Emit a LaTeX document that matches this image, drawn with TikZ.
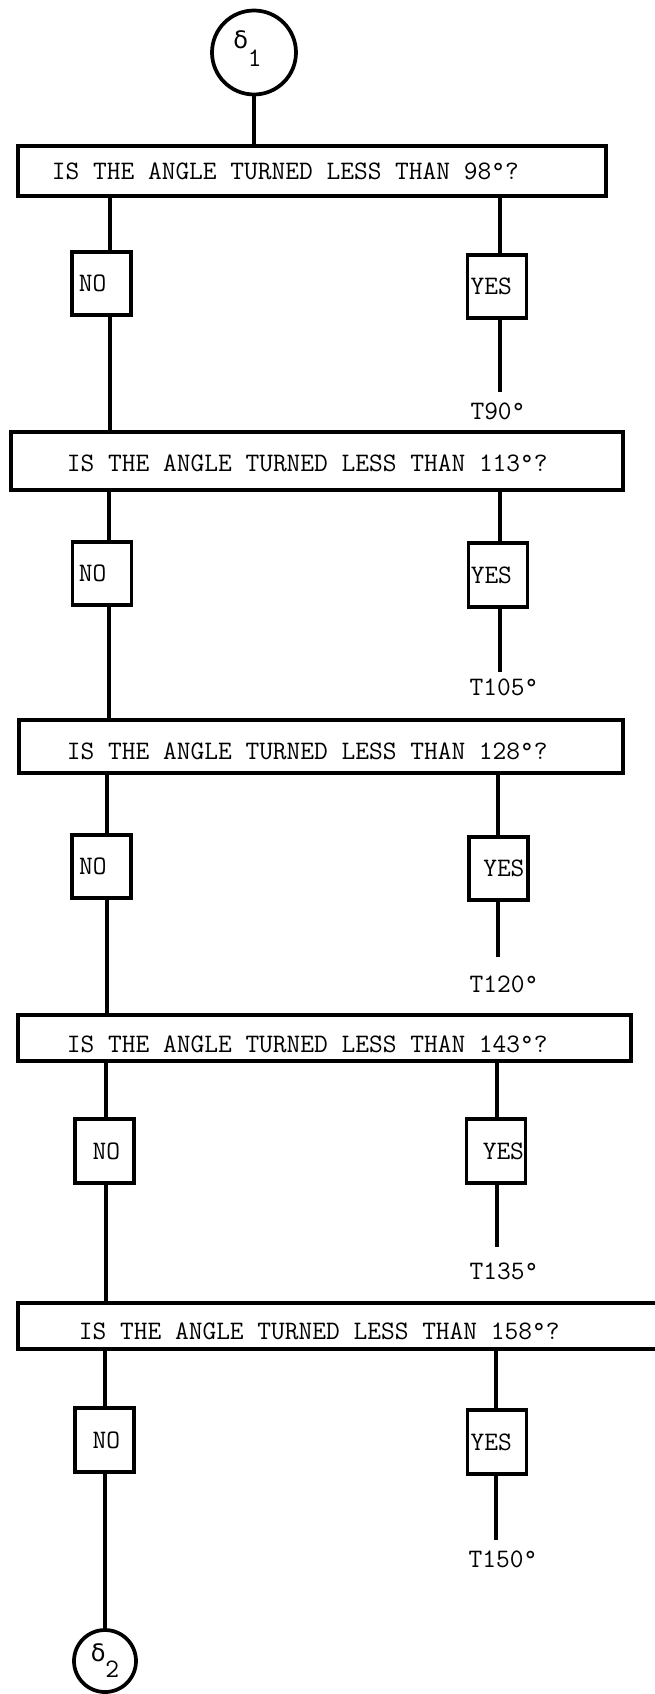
\documentclass[tikz,border=0pt]{standalone}
\usepackage{fontspec}
\newfontfamily\grkfont{DejaVu Sans}
\usetikzlibrary{shapes.geometric}
\begin{document}
\begin{tikzpicture}[x=0.75pt,y=-0.75pt,
  box/.style={draw, line width=2.8pt, inner sep=0pt, font=\fontsize{20}{24}\selectfont\ttfamily},
  qbox/.style={box, text depth=0pt},
  abox/.style={box, minimum width=44.25pt, minimum height=47.6pt, text height=12.2pt, text depth=0pt},
  conn/.style={line width=2.3pt},
  lab/.style={inner sep=0pt, font=\fontsize{20}{24}\selectfont\ttfamily, text height=12.2pt, text depth=0pt},
  circ/.style={draw, line width=2.8pt, circle, inner sep=0pt}
]
\useasboundingbox (0,0) rectangle (655,1694);
\clip (0,0) rectangle (655,1694);
\fill[white] (0,0) rectangle (655,1694);

% start connector
\node[circ, minimum size=63pt, text height=13pt, text depth=18.7pt] (c1) at (254,52.5)
  {{\grkfont\fontsize{18}{18}\selectfont δ}\raisebox{-13.5pt}{\fontsize{20}{20}\selectfont\ttfamily 1}\hspace*{9.8pt}};

% questions
\node[qbox, text height=12.2pt, minimum width=441.4pt, minimum height=37.9pt] (q1) at (311.9,171)
  {\makebox[441.4pt][l]{\hspace*{25.7pt}IS THE ANGLE TURNED LESS THAN 98°?}};
\node[qbox, text height=15.2pt, minimum width=459.4pt, minimum height=43.9pt] (q2) at (317,461)
  {\makebox[459.4pt][l]{\hspace*{42.2pt}IS THE ANGLE TURNED LESS THAN 113°?}};
\node[qbox, text height=20.2pt, minimum width=453pt, minimum height=40.1pt] (q3) at (321.25,746.5)
  {\makebox[453pt][l]{\hspace*{35.8pt}IS THE ANGLE TURNED LESS THAN 128°?}};
\node[qbox, text height=21pt, minimum width=460.1pt, minimum height=34.9pt] (q4) at (324.5,1038)
  {\makebox[460.1pt][l]{\hspace*{36.9pt}IS THE ANGLE TURNED LESS THAN 143°?}};
\node[qbox, text height=19.7pt, minimum width=495pt, minimum height=34.9pt] (q5) at (347.75,1326)
  {\makebox[495pt][l]{\hspace*{45.9pt}IS THE ANGLE TURNED LESS THAN 158°?}};

% answers
\node[abox] (n1) at (101.25,283.5) {\makebox[44.25pt][l]{\hspace*{5.4pt}NO}};
\node[abox] (y1) at (497,286.5)    {\makebox[44.25pt][l]{\hspace*{2.4pt}YES}};
\node[abox] (n2) at (102,573.5)    {\makebox[44.25pt][l]{\hspace*{4.7pt}NO}};
\node[abox] (y2) at (498,575)      {\makebox[44.25pt][l]{\hspace*{1.7pt}YES}};
\node[abox] (n3) at (101.5,866.5)  {\makebox[44.25pt][l]{\hspace*{5.4pt}NO}};
\node[abox] (y3) at (498.5,868.5)  {\makebox[44.25pt][l]{\hspace*{10.7pt}YES}};
\node[abox] (n4) at (104.5,1151)   {\makebox[44.25pt][l]{\hspace*{13.3pt}NO}};
\node[abox] (y4) at (496,1151)     {\makebox[44.25pt][l]{\hspace*{12.2pt}YES}};
\node[abox] (n5) at (104.5,1440)   {\makebox[44.25pt][l]{\hspace*{13.3pt}NO}};
\node[abox] (y5) at (497,1442)     {\makebox[44.25pt][l]{\hspace*{2.4pt}YES}};

% results
\node[lab] (t1) at (498,411.5) {T90°};
\node[lab] (t2) at (504,687.5) {T105°};
\node[lab] (t3) at (504,984)   {T120°};
\node[lab] (t4) at (504,1271)  {T135°};
\node[lab] (t5) at (503,1559)  {T150°};

% end connector
\node[circ, minimum size=46.5pt, text height=13pt, text depth=11.8pt] (c2) at (105,1661)
  {{\grkfont\fontsize{18}{18}\selectfont δ}\raisebox{-11.8pt}{\fontsize{20}{20}\selectfont\ttfamily 2}};

% stem positions and free ends
\coordinate (sn1) at (110,0); \coordinate (sy1) at (500,0);
\coordinate (sn2) at (109,0); \coordinate (sy2) at (500,0);
\coordinate (sn3) at (107,0); \coordinate (sy3) at (498,0);
\coordinate (sn4) at (106,0); \coordinate (sy4) at (497,0);
\coordinate (sn5) at (105,0); \coordinate (sy5) at (496,0);
\coordinate (e1) at (500,392);
\coordinate (e2) at (500,672);
\coordinate (e3) at (498,957);
\coordinate (e4) at (497,1247);
\coordinate (e5) at (496,1540);

% connectors
\draw[conn] (c1.south) -- (c1.south |- q1.north);

\draw[conn] (sn1 |- q1.south) -- (sn1 |- n1.north);
\draw[conn] (sn1 |- n1.south) -- (sn1 |- q2.north);
\draw[conn] (sy1 |- q1.south) -- (sy1 |- y1.north);
\draw[conn] (sy1 |- y1.south) -- (e1);

\draw[conn] (sn2 |- q2.south) -- (sn2 |- n2.north);
\draw[conn] (sn2 |- n2.south) -- (sn2 |- q3.north);
\draw[conn] (sy2 |- q2.south) -- (sy2 |- y2.north);
\draw[conn] (sy2 |- y2.south) -- (e2);

\draw[conn] (sn3 |- q3.south) -- (sn3 |- n3.north);
\draw[conn] (sn3 |- n3.south) -- (sn3 |- q4.north);
\draw[conn] (sy3 |- q3.south) -- (sy3 |- y3.north);
\draw[conn] (sy3 |- y3.south) -- (e3);

\draw[conn] (sn4 |- q4.south) -- (sn4 |- n4.north);
\draw[conn] (sn4 |- n4.south) -- (sn4 |- q5.north);
\draw[conn] (sy4 |- q4.south) -- (sy4 |- y4.north);
\draw[conn] (sy4 |- y4.south) -- (e4);

\draw[conn] (sn5 |- q5.south) -- (sn5 |- n5.north);
\draw[conn] (sn5 |- n5.south) -- (sn5 |- c2.north);
\draw[conn] (sy5 |- q5.south) -- (sy5 |- y5.north);
\draw[conn] (sy5 |- y5.south) -- (e5);
\end{tikzpicture}
\end{document}
